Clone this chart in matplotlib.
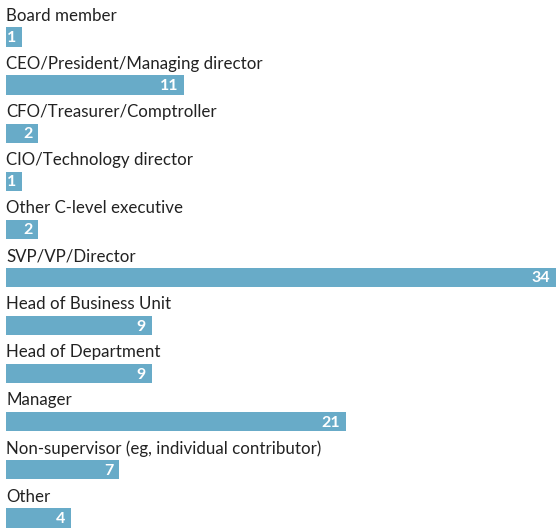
import matplotlib
matplotlib.use("Agg")
import matplotlib.pyplot as plt

categories = [
    "Board member",
    "CEO/President/Managing director",
    "CFO/Treasurer/Comptroller",
    "CIO/Technology director",
    "Other C-level executive",
    "SVP/VP/Director",
    "Head of Business Unit",
    "Head of Department",
    "Manager",
    "Non-supervisor (eg, individual contributor)",
    "Other",
]
values = [1, 11, 2, 1, 2, 34, 9, 9, 21, 7, 4]

plt.rcParams["font.family"] = ["Lato", "DejaVu Sans"]

BAR_COLOR = "#68abc8"

fig = plt.figure(figsize=(5.56, 5.30), dpi=100)
ax = fig.add_axes([0, 0, 1, 1])

rows = list(range(len(categories)))
ax.barh(rows, values, height=0.4, color=BAR_COLOR, left=0)

for i, (cat, v) in enumerate(zip(categories, values)):
    ax.text(0.03, i - 0.34, cat, ha="left", va="baseline", fontsize=12.2, color="#222222")
    ax.text(v - 0.35, i + 0.02, str(v), ha="right", va="center", fontsize=11.5,
            fontweight="bold", color="white")

ax.set_xlim(-0.371, 34.0)
ax.set_ylim(10.25, -0.769)
ax.axis("off")

fig.savefig("out.png", dpi=100)
